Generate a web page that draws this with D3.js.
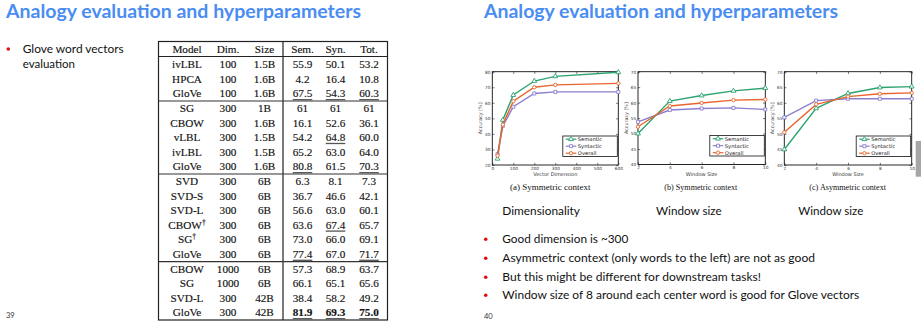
<!DOCTYPE html>
<html><head><meta charset="utf-8">
<script src="https://cdn.jsdelivr.net/npm/d3@7"></script>
<style>
html,body{margin:0;padding:0;background:#fff;}
svg{display:block;}
</style></head>
<body>
<svg id="c" width="921" height="324"></svg>
<script>
// ---------------- data ----------------
const slideTitle = "Analogy evaluation and hyperparameters";
const leftBulletLines = ["Glove word vectors", "evaluation"];
const pageNumbers = ["39", "40"];

const tableHeaders = ["Model", "Dim.", "Size", "Sem.", "Syn.", "Tot."];
const models = ["ivLBL","HPCA","GloVe","SG","CBOW","vLBL","ivLBL","GloVe","SVD","SVD-S","SVD-L","CBOW†","SG†","GloVe","CBOW","SG","SVD-L","GloVe"];
const dims = ["100","100","100","300","300","300","300","300","300","300","300","300","300","300","1000","1000","300","300"];
const sizes = ["1.5B","1.6B","1.6B","1B","1.6B","1.5B","1.5B","1.6B","6B","6B","6B","6B","6B","6B","6B","6B","42B","42B"];
const semScores = ["55.9","4.2","67.5","61","16.1","54.2","65.2","80.8","6.3","36.7","56.6","63.6","73.0","77.4","57.3","66.1","38.4","81.9"];
const synScores = ["50.1","16.4","54.3","61","52.6","64.8","63.0","61.5","8.1","46.6","63.0","67.4","66.0","67.0","68.9","65.1","58.2","69.3"];
const totScores = ["53.2","10.8","60.3","61","36.1","60.0","64.0","70.3","7.3","42.1","60.1","65.7","69.1","71.7","63.7","65.6","49.2","75.0"];
const rowGroups = [0,0,0,1,1,1,1,1,2,2,2,2,2,2,3,3,3,3];

const seriesNames = ["Semantic", "Syntactic", "Overall"];
const dimX = [25, 50, 100, 200, 300, 600];
const dimSemantic = [24, 49, 65, 74, 77, 79.6];
const dimSyntactic = [27, 45, 57.5, 66, 67, 67];
const dimOverall = [26, 46, 61, 70, 71.5, 72.5];
const winX = [2, 4, 6, 8, 10];
const symSemantic = [50, 60.5, 62.3, 63.8, 64.7];
const symSyntactic = [53.8, 57.6, 58.1, 58.3, 57.8];
const symOverall = [52.2, 58.9, 59.9, 60.8, 61];
const asymSemantic = [45, 58.2, 63, 64.9, 65.2];
const asymSyntactic = [55.3, 60.7, 61.3, 61.3, 61.3];
const asymOverall = [50.5, 59.5, 62, 62.9, 63.2];
const dimTicksX = [0, 100, 200, 300, 400, 500, 600];
const dimTicksY = [20, 30, 40, 50, 60, 70, 80];
const winTicksX = [2, 4, 6, 8, 10];
const winTicksY = [40, 45, 50, 55, 60, 65, 70];
const chartCaptions = ["(a) Symmetric context", "(b) Symmetric context", "(c) Asymmetric context"];
const chartSubtitles = ["Dimensionality", "Window size", "Window size"];
const xAxisTitles = ["Vector Dimension", "Window Size", "Window Size"];
const yAxisTitle = "Accuracy [%]";
const rightBullets = [
  "Good dimension is ~300",
  "Asymmetric context (only words to the left) are not as good",
  "But this might be different for downstream tasks!",
  "Window size of 8 around each center word is good for Glove vectors"
];

// ---------------- drawing ----------------
const svg = d3.select("#c");
const SANS = "Lato, 'Open Sans', sans-serif";
const SERIF = "'Liberation Serif', 'DejaVu Serif', serif";
const TITLE_BLUE = "#4a8df2";
const BULLET_RED = "#e01010";

// titles
[[6, 355], [484, 354]].forEach(([x, w]) => {
  svg.append("text").attr("x", x).attr("y", 18)
    .attr("font-family", SANS).attr("font-weight", 700).attr("font-size", 19)
    .attr("fill", TITLE_BLUE).attr("textLength", w).attr("lengthAdjust", "spacingAndGlyphs")
    .text(slideTitle);
});

// left bullet
svg.append("circle").attr("cx", 8.3).attr("cy", 49).attr("r", 1.8).attr("fill", BULLET_RED);
const lbW = [101, 52.3];
leftBulletLines.forEach((t, i) => {
  svg.append("text").attr("x", 22.7).attr("y", 52.8 + i * 15.3)
    .attr("font-family", SANS).attr("font-size", 11.5).attr("fill", "#111")
    .attr("textLength", lbW[i]).attr("lengthAdjust", "spacingAndGlyphs").text(t);
});

// page numbers
svg.append("text").attr("x", 6).attr("y", 318).attr("font-family", SANS).attr("font-size", 7.5).attr("fill", "#333").text(pageNumbers[0]);
svg.append("text").attr("x", 484).attr("y", 319).attr("font-family", SANS).attr("font-size", 7.5).attr("fill", "#333").text(pageNumbers[1]);

// ---------------- table ----------------
const T = {left: 158.5, right: 387.5, top: 41.5, bottom: 320, divider: 283, headerLine: 56.5};
const colX = d3.scaleOrdinal().domain(tableHeaders).range([187, 228, 264.5, 302.5, 335.5, 369]);
const rowY = d3.scaleLinear().domain([0, models.length - 1]).range([64.5, 312.7]);
const tg = svg.append("g").attr("font-family", SERIF).attr("font-size", 11.2).attr("fill", "#111")
  .attr("stroke", "#111").attr("stroke-width", 0.15);

tg.append("rect").attr("x", T.left).attr("y", T.top).attr("width", T.right - T.left).attr("height", T.bottom - T.top)
  .attr("fill", "none").attr("stroke", "#222").attr("stroke-width", 1.2);
tg.append("line").attr("x1", T.divider).attr("x2", T.divider).attr("y1", T.top).attr("y2", T.bottom)
  .attr("stroke", "#222").attr("stroke-width", 1.2);
tg.append("line").attr("x1", T.left).attr("x2", T.right).attr("y1", T.headerLine).attr("y2", T.headerLine)
  .attr("stroke", "#222").attr("stroke-width", 1);
// group separators
for (let i = 1; i < rowGroups.length; i++) {
  if (rowGroups[i] !== rowGroups[i - 1]) {
    const y = (rowY(i) + rowY(i - 1)) / 2;
    tg.append("line").attr("x1", T.left).attr("x2", T.right).attr("y1", y).attr("y2", y)
      .attr("stroke", "#333").attr("stroke-width", 1.2);
  }
}
// header
tableHeaders.forEach(h => {
  tg.append("text").attr("x", colX(h)).attr("y", 49 + 3.7).attr("text-anchor", "middle").text(h);
});
// best per group (underline) and best overall (bold)
const scoreCols = [["Sem.", semScores], ["Syn.", synScores], ["Tot.", totScores]];
const rows = models.map((m, i) => ({i, m, dim: dims[i], size: sizes[i], g: rowGroups[i]}));
rows.forEach(r => {
  const y = rowY(r.i) + 3.7;
  const mt = tg.append("text").attr("x", colX("Model")).attr("y", y).attr("text-anchor", "middle");
  if (r.m.endsWith("†")) {
    mt.append("tspan").text(r.m.slice(0, -1));
    mt.append("tspan").attr("dy", -4).attr("font-size", 7.5).text("†");
  } else mt.text(r.m);
  tg.append("text").attr("x", colX("Dim.")).attr("y", y).attr("text-anchor", "middle").text(r.dim);
  tg.append("text").attr("x", colX("Size")).attr("y", y).attr("text-anchor", "middle").text(r.size);
  scoreCols.forEach(([h, arr]) => {
    const v = +arr[r.i];
    const groupVals = arr.filter((_, j) => rowGroups[j] === r.g).map(Number);
    const best = v === d3.max(groupVals) && groupVals.length > 1 && r.g !== 1 || (r.g === 1 && v === d3.max(groupVals) && arr[r.i] !== "61");
    const bold = v === d3.max(arr.map(Number));
    const t = tg.append("text").attr("x", colX(h)).attr("y", y).attr("text-anchor", "middle")
      .attr("font-weight", bold ? 700 : 400).text(arr[r.i]);
    if (best) {
      const w = t.node().getComputedTextLength();
      tg.append("line").attr("x1", colX(h) - w / 2).attr("x2", colX(h) + w / 2)
        .attr("y1", y + 2.3).attr("y2", y + 2.3).attr("stroke", "#555").attr("stroke-width", 1.3);
    }
  });
});

// ---------------- charts ----------------
const COLORS = {Semantic: "#2ca371", Syntactic: "#8b7fcf", Overall: "#e8652d"};
const SYMBOLS = {Semantic: d3.symbolTriangle, Syntactic: d3.symbolSquare, Overall: d3.symbolCircle};
const SYMSIZE = {Semantic: 10, Syntactic: 9, Overall: 9};

function drawChart(cfg) {
  const g = svg.append("g");
  const x = d3.scaleLinear().domain(cfg.xDomain).range([cfg.x0, cfg.x1]);
  const y = d3.scaleLinear().domain(cfg.yDomain).range([cfg.yb, cfg.yt]);
  const fs = 4.3;
  // axes
  const ax = (gen, tr, ticks, labels) => {
    const a = g.append("g").attr("transform", tr)
      .call(gen.tickValues(ticks).tickSizeInner(-2.2).tickSizeOuter(0).tickPadding(1.8)
        .tickFormat(labels ? d3.format("d") : () => ""));
    a.select(".domain").remove();
    a.selectAll("line").attr("stroke", "#222").attr("stroke-width", 0.6);
    a.selectAll("text").attr("font-size", fs).attr("font-family", "'DejaVu Sans', sans-serif").attr("fill", "#333");
    return a;
  };
  ax(d3.axisBottom(x), `translate(0,${cfg.yb})`, cfg.xTicks, true);
  ax(d3.axisTop(x), `translate(0,${cfg.yt})`, cfg.xTicks, false);
  ax(d3.axisLeft(y), `translate(${cfg.x0},0)`, cfg.yTicks, true);
  ax(d3.axisRight(y), `translate(${cfg.x1},0)`, cfg.yTicks, false);
  g.append("rect").attr("x", cfg.x0).attr("y", cfg.yt).attr("width", cfg.x1 - cfg.x0).attr("height", cfg.yb - cfg.yt)
    .attr("fill", "none").attr("stroke", "#111").attr("stroke-width", 0.9);
  // axis titles
  g.append("text").attr("x", (cfg.x0 + cfg.x1) / 2).attr("y", cfg.yb + 11).attr("text-anchor", "middle")
    .attr("font-size", 5).attr("font-family", "'DejaVu Sans', sans-serif").attr("fill", "#333").text(cfg.xTitle);
  g.append("text").attr("transform", `translate(${cfg.x0 - 10.5},${(cfg.yt + cfg.yb) / 2}) rotate(-90)`)
    .attr("text-anchor", "middle").attr("font-size", 4.8).attr("font-family", "'DejaVu Sans', sans-serif")
    .attr("fill", "#444").text(yAxisTitle);
  // series
  const line = d3.line().x(d => x(d[0])).y(d => y(d[1]));
  cfg.series.forEach(s => {
    const pts = cfg.xs.map((xv, i) => [xv, s.values[i]]);
    g.append("path").attr("d", line(pts)).attr("fill", "none").attr("stroke", COLORS[s.name]).attr("stroke-width", 1.4);
    g.selectAll(null).data(pts).enter().append("path")
      .attr("d", d3.symbol(SYMBOLS[s.name]).size(SYMSIZE[s.name])())
      .attr("transform", d => `translate(${x(d[0])},${y(d[1])})`)
      .attr("fill", "#fff").attr("stroke", COLORS[s.name]).attr("stroke-width", 0.9);
  });
  // legend
  const lx = cfg.x1 - 55.5, ly = cfg.yb - 29, lw = 54.5, lh = 20.5;
  g.append("rect").attr("x", lx).attr("y", ly).attr("width", lw).attr("height", lh)
    .attr("fill", "#fff").attr("stroke", "#111").attr("stroke-width", 0.8);
  seriesNames.forEach((n, i) => {
    const yy = ly + 3.2 + i * 7;
    g.append("line").attr("x1", lx + 3).attr("x2", lx + 13.5).attr("y1", yy).attr("y2", yy)
      .attr("stroke", COLORS[n]).attr("stroke-width", 1.2);
    g.append("path").attr("d", d3.symbol(SYMBOLS[n]).size(SYMSIZE[n])())
      .attr("transform", `translate(${lx + 8.2},${yy})`).attr("fill", "#fff").attr("stroke", COLORS[n]).attr("stroke-width", 0.9);
    g.append("text").attr("x", lx + 15).attr("y", yy + 1.8).attr("font-size", 5.2)
      .attr("font-family", "'DejaVu Sans', sans-serif").attr("fill", "#222").text(n);
  });
  // caption and subtitle
  svg.append("text").attr("x", cfg.capX).attr("y", 190).attr("font-family", SERIF).attr("font-size", 9)
    .attr("fill", "#111").attr("textLength", cfg.capW).attr("lengthAdjust", "spacingAndGlyphs").text(cfg.caption);
  svg.append("text").attr("x", cfg.subX).attr("y", 214.5).attr("font-family", SANS).attr("font-size", 11.5)
    .attr("fill", "#111").attr("textLength", cfg.subW).attr("lengthAdjust", "spacingAndGlyphs").text(cfg.subtitle);
}

drawChart({x0: 492.3, x1: 618.3, yt: 71.7, yb: 165, xDomain: [0, 600], yDomain: [20, 80],
  xTicks: dimTicksX, yTicks: dimTicksY, xs: dimX, xTitle: xAxisTitles[0],
  series: [{name: "Semantic", values: dimSemantic}, {name: "Syntactic", values: dimSyntactic}, {name: "Overall", values: dimOverall}],
  caption: chartCaptions[0], capX: 510, capW: 80.5, subtitle: chartSubtitles[0], subX: 502.3, subW: 77.7});
drawChart({x0: 638, x1: 765.3, yt: 71.7, yb: 164.5, xDomain: [2, 10], yDomain: [40, 70],
  xTicks: winTicksX, yTicks: winTicksY, xs: winX, xTitle: xAxisTitles[1],
  series: [{name: "Semantic", values: symSemantic}, {name: "Syntactic", values: symSyntactic}, {name: "Overall", values: symOverall}],
  caption: chartCaptions[1], capX: 664.3, capW: 73, subtitle: chartSubtitles[1], subX: 656, subW: 65.7});
drawChart({x0: 784.3, x1: 911.7, yt: 71.7, yb: 165, xDomain: [2, 10], yDomain: [40, 70],
  xTicks: winTicksX, yTicks: winTicksY, xs: winX, xTitle: xAxisTitles[2],
  series: [{name: "Semantic", values: asymSemantic}, {name: "Syntactic", values: asymSyntactic}, {name: "Overall", values: asymOverall}],
  caption: chartCaptions[2], capX: 809.3, capW: 76.7, subtitle: chartSubtitles[2], subX: 798.3, subW: 65});

// scroll thumb at right edge
svg.append("rect").attr("x", 915.7).attr("y", 141).attr("width", 5.3).attr("height", 35.7).attr("fill", "#a6a6a6");

// right bullets
const rbW = [126, 312.7, 258.7, 357];
const rbY = [239.3, 258.3, 277.3, 295.3];
rightBullets.forEach((t, i) => {
  svg.append("circle").attr("cx", 485.7).attr("cy", rbY[i]).attr("r", 1.8).attr("fill", BULLET_RED);
  svg.append("text").attr("x", 502.3).attr("y", rbY[i] + 3.9).attr("font-family", SANS).attr("font-size", 11.5)
    .attr("fill", "#111").attr("textLength", rbW[i]).attr("lengthAdjust", "spacingAndGlyphs").text(t);
});
</script>
</body></html>
